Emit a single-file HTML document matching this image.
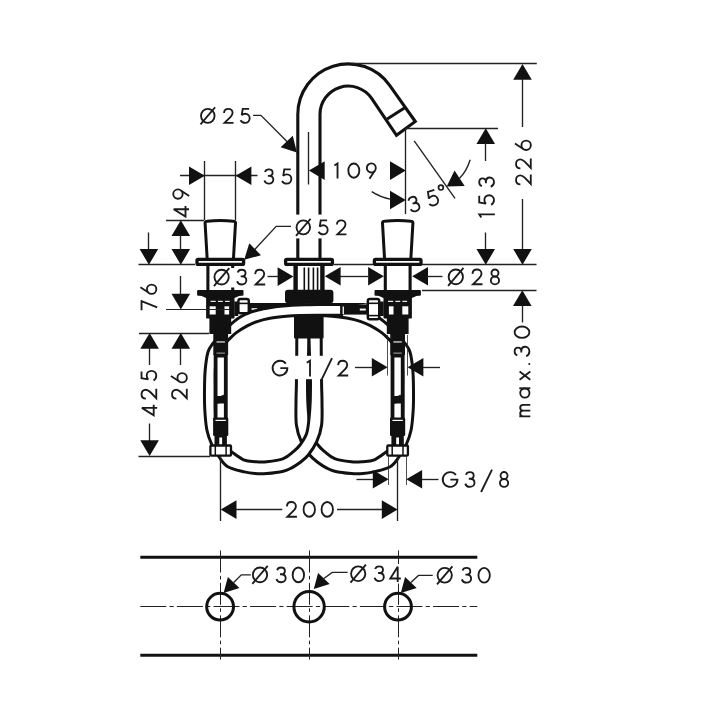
<!DOCTYPE html>
<html><head><meta charset="utf-8"><title>Dimension drawing</title>
<style>
html,body{margin:0;padding:0;background:#fff;}
body{width:720px;height:720px;overflow:hidden;}
svg{display:block;}
text{font-family:"Liberation Sans",sans-serif;fill:#151515;}
</style></head><body>
<svg width="720" height="720" viewBox="0 0 720 720">
<rect x="0" y="0" width="720" height="720" fill="#fff"/>
<g id="hoses">
<path d="M296.8,336 C296.78,340.00 296.77,351.83 296.70,360.00 C296.63,368.17 296.52,378.00 296.40,385.00 C296.28,392.00 296.00,395.33 296.00,402.00 C296.00,408.67 295.52,418.38 296.40,425.00 C297.28,431.62 299.08,436.70 301.30,441.70 C303.52,446.70 306.92,451.53 309.70,455.00 C312.48,458.47 315.23,460.37 318.00,462.50 C320.77,464.63 323.52,466.33 326.30,467.80 C329.08,469.27 330.53,470.33 334.70,471.30 C338.87,472.27 346.58,473.22 351.30,473.60 C356.02,473.98 359.28,473.88 363.00,473.60 C366.72,473.32 369.07,473.05 373.60,471.90 C378.13,470.75 385.95,469.23 390.20,466.70 C394.45,464.17 396.42,460.42 399.10,456.70 C401.78,452.98 404.30,448.85 406.30,444.40 C408.30,439.95 409.95,435.73 411.10,430.00 C412.25,424.27 412.80,416.67 413.20,410.00 C413.60,403.33 413.57,396.67 413.50,390.00 C413.43,383.33 413.38,376.33 412.80,370.00 C412.22,363.67 411.30,356.42 410.00,352.00 C408.70,347.58 407.33,346.70 405.00,343.50 C402.67,340.30 399.05,336.08 396.00,332.80 C392.95,329.52 389.75,326.43 386.70,323.80 C383.65,321.17 381.08,318.98 377.70,317.00 C374.32,315.02 370.18,313.25 366.40,311.90 C362.62,310.55 358.03,309.60 355.00,308.90 C351.97,308.20 351.03,308.13 348.20,307.70 C345.37,307.27 341.70,306.72 338.00,306.30 C334.30,305.88 330.17,305.47 326.00,305.20 C321.83,304.93 317.67,304.82 313.00,304.70 C308.33,304.58 304.12,304.55 298.00,304.50 C291.88,304.45 279.92,304.42 276.30,304.40 L276.3,315.2 C279.92,315.20 291.05,315.17 298.00,315.20 C304.95,315.23 312.35,315.23 318.00,315.40 C323.65,315.57 326.90,315.73 331.90,316.20 C336.90,316.67 343.28,317.35 348.00,318.20 C352.72,319.05 356.40,320.02 360.20,321.30 C364.00,322.58 367.17,323.97 370.80,325.90 C374.43,327.83 378.77,330.45 382.00,332.90 C385.23,335.35 387.78,338.17 390.20,340.60 C392.62,343.03 394.67,345.10 396.50,347.50 C398.33,349.90 400.17,351.25 401.20,355.00 C402.23,358.75 402.45,364.17 402.70,370.00 C402.95,375.83 402.70,383.33 402.70,390.00 C402.70,396.67 402.90,403.33 402.70,410.00 C402.50,416.67 402.62,424.33 401.50,430.00 C400.38,435.67 398.62,440.30 396.00,444.00 C393.38,447.70 389.53,449.50 385.80,452.20 C382.07,454.90 377.40,458.62 373.60,460.20 C369.80,461.78 366.72,461.43 363.00,461.70 C359.28,461.97 356.02,462.32 351.30,461.80 C346.58,461.28 339.13,460.28 334.70,458.60 C330.27,456.92 327.48,453.97 324.70,451.70 C321.92,449.43 320.23,448.07 318.00,445.00 C315.77,441.93 312.83,438.02 311.30,433.30 C309.77,428.58 309.38,421.92 308.80,416.70 C308.22,411.48 308.02,407.28 307.80,402.00 C307.58,396.72 307.52,390.67 307.50,385.00 C307.48,379.33 307.52,373.50 307.70,368.00 C307.88,362.50 308.38,357.33 308.60,352.00 C308.82,346.67 308.93,338.67 309.00,336.00 Z" fill="#fff" stroke="#111" stroke-width="3.0" stroke-linejoin="round"/>
<rect x="248.00" y="303.00" width="29.40" height="11.60" fill="#111" stroke="none" stroke-width="0" rx="0"/>
<rect x="251.60" y="308.20" width="5.60" height="1.70" fill="#fff" stroke="none" stroke-width="0" rx="0"/>
<path d="M321.2,336 C321.22,340.00 321.23,351.83 321.30,360.00 C321.37,368.17 321.48,378.00 321.60,385.00 C321.72,392.00 322.00,395.33 322.00,402.00 C322.00,408.67 322.48,418.38 321.60,425.00 C320.72,431.62 318.92,436.70 316.70,441.70 C314.48,446.70 311.08,451.53 308.30,455.00 C305.52,458.47 302.77,460.37 300.00,462.50 C297.23,464.63 294.48,466.33 291.70,467.80 C288.92,469.27 287.47,470.33 283.30,471.30 C279.13,472.27 271.42,473.22 266.70,473.60 C261.98,473.98 258.72,473.88 255.00,473.60 C251.28,473.32 248.93,473.05 244.40,471.90 C239.87,470.75 232.05,469.23 227.80,466.70 C223.55,464.17 221.58,460.42 218.90,456.70 C216.22,452.98 213.70,448.85 211.70,444.40 C209.70,439.95 208.05,435.73 206.90,430.00 C205.75,424.27 205.20,416.67 204.80,410.00 C204.40,403.33 204.43,396.67 204.50,390.00 C204.57,383.33 204.62,376.33 205.20,370.00 C205.78,363.67 206.70,356.42 208.00,352.00 C209.30,347.58 210.67,346.70 213.00,343.50 C215.33,340.30 218.95,336.08 222.00,332.80 C225.05,329.52 228.25,326.43 231.30,323.80 C234.35,321.17 236.92,318.98 240.30,317.00 C243.68,315.02 247.82,313.25 251.60,311.90 C255.38,310.55 259.97,309.60 263.00,308.90 C266.03,308.20 266.97,308.13 269.80,307.70 C272.63,307.27 276.30,306.72 280.00,306.30 C283.70,305.88 287.83,305.47 292.00,305.20 C296.17,304.93 300.33,304.82 305.00,304.70 C309.67,304.58 313.88,304.55 320.00,304.50 C326.12,304.45 338.08,304.42 341.70,304.40 L341.7,315.2 C338.08,315.20 326.95,315.17 320.00,315.20 C313.05,315.23 305.65,315.23 300.00,315.40 C294.35,315.57 291.10,315.73 286.10,316.20 C281.10,316.67 274.72,317.35 270.00,318.20 C265.28,319.05 261.60,320.02 257.80,321.30 C254.00,322.58 250.83,323.97 247.20,325.90 C243.57,327.83 239.23,330.45 236.00,332.90 C232.77,335.35 230.22,338.17 227.80,340.60 C225.38,343.03 223.33,345.10 221.50,347.50 C219.67,349.90 217.83,351.25 216.80,355.00 C215.77,358.75 215.55,364.17 215.30,370.00 C215.05,375.83 215.30,383.33 215.30,390.00 C215.30,396.67 215.10,403.33 215.30,410.00 C215.50,416.67 215.38,424.33 216.50,430.00 C217.62,435.67 219.38,440.30 222.00,444.00 C224.62,447.70 228.47,449.50 232.20,452.20 C235.93,454.90 240.60,458.62 244.40,460.20 C248.20,461.78 251.28,461.43 255.00,461.70 C258.72,461.97 261.98,462.32 266.70,461.80 C271.42,461.28 278.87,460.28 283.30,458.60 C287.73,456.92 290.52,453.97 293.30,451.70 C296.08,449.43 297.77,448.07 300.00,445.00 C302.23,441.93 305.17,438.02 306.70,433.30 C308.23,428.58 308.62,421.92 309.20,416.70 C309.78,411.48 309.98,407.28 310.20,402.00 C310.42,396.72 310.48,390.67 310.50,385.00 C310.52,379.33 310.48,373.50 310.30,368.00 C310.12,362.50 309.62,357.33 309.40,352.00 C309.18,346.67 309.07,338.67 309.00,336.00 Z" fill="#fff" stroke="#111" stroke-width="3.0" stroke-linejoin="round"/>
</g>
<g id="connectors">
<path d="M276,303 L286,303 L286,306 L276,306.6 Z" fill="#111" stroke="#111" stroke-width="0" />
<rect x="340.60" y="304.40" width="29.40" height="10.20" fill="#111" stroke="none" stroke-width="0" rx="0"/>
<rect x="359.80" y="308.60" width="6.00" height="1.90" fill="#fff" stroke="none" stroke-width="0" rx="0"/>
<rect x="342.60" y="305.40" width="1.30" height="8.80" fill="#fff" stroke="none" stroke-width="0" rx="0"/>
<path d="M370,303 L340.6,303 L340.6,306.4 L348,306.4 Z" fill="#111" stroke="#111" stroke-width="0" />
</g>
<g id="centre">
</g>
<path d="M297.8,258 L297.8,114.4 A50.5,50.5 0 0 1 389.67,85.43 L415.3,121.5 L396.5,135.3 L371.48,98.17 A28.3,28.3 0 0 0 320.0,114.4 L320.0,258" fill="#fff" stroke="#111" stroke-width="3.1" stroke-linejoin="miter"/>
<line x1="387.20" y1="118.90" x2="404.40" y2="107.90" stroke="#111" stroke-width="3.0" />
<rect x="285.60" y="259.40" width="46.80" height="5.00" fill="#fff" stroke="#111" stroke-width="3.3" rx="1.2"/>
<rect x="293.40" y="266.00" width="4.40" height="24.00" fill="#111" stroke="none" stroke-width="0" rx="0"/>
<rect x="320.20" y="266.00" width="4.40" height="24.00" fill="#111" stroke="none" stroke-width="0" rx="0"/>
<rect x="303.50" y="267.50" width="1.60" height="22.50" fill="#111" stroke="none" stroke-width="0" rx="0"/>
<rect x="307.80" y="267.50" width="1.60" height="22.50" fill="#111" stroke="none" stroke-width="0" rx="0"/>
<rect x="312.60" y="267.50" width="1.60" height="22.50" fill="#111" stroke="none" stroke-width="0" rx="0"/>
<rect x="316.80" y="267.50" width="1.60" height="22.50" fill="#111" stroke="none" stroke-width="0" rx="0"/>
<rect x="285.00" y="289.80" width="48.40" height="13.50" fill="#111" stroke="none" stroke-width="0" rx="3"/>
<rect x="294.00" y="316.00" width="29.60" height="22.50" fill="#111" stroke="none" stroke-width="0" rx="1"/>
<g>
<path d="M207.10000000000002,258 L205.10000000000002,223.2 Q204.9,221.3 207.10000000000002,221.2 Q220.3,219.9 233.5,221.2 Q235.70000000000002,221.3 235.5,223.2 L233.5,258" fill="#fff" stroke="#111" stroke-width="3.0" />
<rect x="197.00" y="259.40" width="46.60" height="5.00" fill="#fff" stroke="#111" stroke-width="3.3" rx="1.2"/>
<line x1="207.90" y1="265.00" x2="207.90" y2="291.00" stroke="#111" stroke-width="3.1" />
<line x1="232.70" y1="265.00" x2="232.70" y2="291.00" stroke="#111" stroke-width="3.1" />
<rect x="197.10" y="289.90" width="46.40" height="5.80" fill="#111" stroke="none" stroke-width="0" rx="1"/>
<path d="M199.3,295 L241.3,295 L234.5,298 L206.10000000000002,298 Z" fill="#111" stroke="#111" stroke-width="0" />
<rect x="206.10" y="295.00" width="28.40" height="23.60" fill="#111" stroke="none" stroke-width="0" rx="0.8"/>
<rect x="210.60" y="300.80" width="5.10" height="1.10" fill="#fff" stroke="none" stroke-width="0" rx="0"/>
<rect x="218.00" y="300.80" width="4.80" height="1.10" fill="#fff" stroke="none" stroke-width="0" rx="0"/>
<rect x="225.00" y="300.80" width="4.70" height="1.10" fill="#fff" stroke="none" stroke-width="0" rx="0"/>
<rect x="209.70" y="306.30" width="6.00" height="8.20" fill="#fff" stroke="none" stroke-width="0" rx="0"/>
<rect x="224.50" y="306.30" width="4.60" height="8.20" fill="#fff" stroke="none" stroke-width="0" rx="0"/>
<rect x="209.40" y="318.00" width="21.80" height="16.00" fill="#111" stroke="none" stroke-width="0" rx="0"/>
<rect x="213.30" y="333.00" width="14.80" height="22.00" fill="#111" stroke="none" stroke-width="0" rx="0"/>
<rect x="216.50" y="341.40" width="8.40" height="1.10" fill="#fff" stroke="none" stroke-width="0" rx="0"/>
<rect x="216.50" y="352.60" width="8.40" height="1.00" fill="#aaa" stroke="none" stroke-width="0" rx="0"/>
<rect x="213.70" y="354.00" width="14.00" height="66.00" fill="#111" stroke="none" stroke-width="0" rx="0"/>
<rect x="217.50" y="357.50" width="6.40" height="38.50" fill="#fff" stroke="none" stroke-width="0" rx="0"/>
<rect x="217.50" y="403.50" width="6.40" height="15.50" fill="#fff" stroke="none" stroke-width="0" rx="0"/>
<path d="M217.5,397.5 L223.89999999999998,394.5 L223.89999999999998,401 L217.5,404 Z" fill="#111" stroke="#111" stroke-width="0" />
<rect x="213.10" y="417.50" width="15.20" height="18.50" fill="#111" stroke="none" stroke-width="0" rx="1.2"/>
<rect x="215.50" y="419.80" width="10.40" height="1.20" fill="#fff" stroke="none" stroke-width="0" rx="0"/>
<rect x="214.50" y="435.00" width="12.40" height="10.50" fill="#111" stroke="none" stroke-width="0" rx="0"/>
<rect x="219.30" y="437.50" width="2.80" height="7.50" fill="#fff" stroke="none" stroke-width="0" rx="0"/>
<rect x="210.40" y="445.50" width="20.60" height="10.20" fill="#fff" stroke="#111" stroke-width="2.3" rx="1"/>
<line x1="215.30" y1="446.00" x2="215.30" y2="456.00" stroke="#111" stroke-width="1.5" />
<line x1="226.10" y1="446.00" x2="226.10" y2="456.00" stroke="#111" stroke-width="1.5" />
<rect x="234.30" y="301.50" width="3.90" height="14.50" fill="#111" stroke="none" stroke-width="0" rx="0"/>
</g>
<g>
<path d="M384.5,258 L382.5,223.2 Q382.3,221.3 384.5,221.2 Q397.7,219.9 410.9,221.2 Q413.09999999999997,221.3 412.9,223.2 L410.9,258" fill="#fff" stroke="#111" stroke-width="3.0" />
<rect x="374.40" y="259.40" width="46.60" height="5.00" fill="#fff" stroke="#111" stroke-width="3.3" rx="1.2"/>
<line x1="385.30" y1="265.00" x2="385.30" y2="291.00" stroke="#111" stroke-width="3.1" />
<line x1="410.10" y1="265.00" x2="410.10" y2="291.00" stroke="#111" stroke-width="3.1" />
<rect x="374.50" y="289.90" width="46.40" height="5.80" fill="#111" stroke="none" stroke-width="0" rx="1"/>
<path d="M376.7,295 L418.7,295 L411.9,298 L383.5,298 Z" fill="#111" stroke="#111" stroke-width="0" />
<rect x="383.50" y="295.00" width="28.40" height="23.60" fill="#111" stroke="none" stroke-width="0" rx="0.8"/>
<rect x="388.00" y="300.80" width="5.10" height="1.10" fill="#fff" stroke="none" stroke-width="0" rx="0"/>
<rect x="395.40" y="300.80" width="4.80" height="1.10" fill="#fff" stroke="none" stroke-width="0" rx="0"/>
<rect x="402.40" y="300.80" width="4.70" height="1.10" fill="#fff" stroke="none" stroke-width="0" rx="0"/>
<rect x="402.30" y="306.30" width="6.00" height="8.20" fill="#fff" stroke="none" stroke-width="0" rx="0"/>
<rect x="388.90" y="306.30" width="4.60" height="8.20" fill="#fff" stroke="none" stroke-width="0" rx="0"/>
<rect x="386.80" y="318.00" width="21.80" height="16.00" fill="#111" stroke="none" stroke-width="0" rx="0"/>
<rect x="390.20" y="333.00" width="14.80" height="22.00" fill="#111" stroke="none" stroke-width="0" rx="0"/>
<rect x="393.40" y="341.40" width="8.40" height="1.10" fill="#fff" stroke="none" stroke-width="0" rx="0"/>
<rect x="393.40" y="352.60" width="8.40" height="1.00" fill="#aaa" stroke="none" stroke-width="0" rx="0"/>
<rect x="390.60" y="354.00" width="14.00" height="66.00" fill="#111" stroke="none" stroke-width="0" rx="0"/>
<rect x="394.40" y="357.50" width="6.40" height="38.50" fill="#fff" stroke="none" stroke-width="0" rx="0"/>
<rect x="394.40" y="403.50" width="6.40" height="15.50" fill="#fff" stroke="none" stroke-width="0" rx="0"/>
<path d="M394.40000000000003,397.5 L400.8,394.5 L400.8,401 L394.40000000000003,404 Z" fill="#111" stroke="#111" stroke-width="0" />
<rect x="390.00" y="417.50" width="15.20" height="18.50" fill="#111" stroke="none" stroke-width="0" rx="1.2"/>
<rect x="392.40" y="419.80" width="10.40" height="1.20" fill="#fff" stroke="none" stroke-width="0" rx="0"/>
<rect x="391.40" y="435.00" width="12.40" height="10.50" fill="#111" stroke="none" stroke-width="0" rx="0"/>
<rect x="396.20" y="437.50" width="2.80" height="7.50" fill="#fff" stroke="none" stroke-width="0" rx="0"/>
<rect x="387.30" y="445.50" width="20.60" height="10.20" fill="#fff" stroke="#111" stroke-width="2.3" rx="1"/>
<line x1="392.20" y1="446.00" x2="392.20" y2="456.00" stroke="#111" stroke-width="1.5" />
<line x1="403.00" y1="446.00" x2="403.00" y2="456.00" stroke="#111" stroke-width="1.5" />
<rect x="379.40" y="301.50" width="4.30" height="14.50" fill="#111" stroke="none" stroke-width="0" rx="0"/>
</g>
<rect x="238.40" y="299.00" width="10.40" height="14.30" fill="#fff" stroke="#111" stroke-width="2.4" rx="2"/>
<line x1="238.20" y1="303.40" x2="249.00" y2="303.40" stroke="#111" stroke-width="1.6" />
<rect x="367.80" y="299.00" width="11.40" height="20.30" fill="#fff" stroke="#111" stroke-width="2.4" rx="2"/>
<line x1="367.60" y1="303.30" x2="379.40" y2="303.30" stroke="#111" stroke-width="1.6" />
<line x1="367.60" y1="315.60" x2="379.40" y2="315.60" stroke="#111" stroke-width="1.6" />
<g id="dims">
<line x1="352.00" y1="63.50" x2="536.80" y2="63.50" stroke="#222" stroke-width="1.35" />
<polygon points="522.50,63.90 531.80,79.70 513.20,79.70" fill="#111"/>
<line x1="522.50" y1="79.00" x2="522.50" y2="127.00" stroke="#222" stroke-width="1.35" />
<line x1="522.50" y1="199.00" x2="522.50" y2="250.00" stroke="#222" stroke-width="1.35" />
<polygon points="522.50,264.80 513.20,249.00 531.80,249.00" fill="#111"/>
<g transform="translate(531.70 185.60) rotate(-90)"><g transform="translate(0.00 0) scale(1.0) translate(0 -16.60)"><path d="M1.2,5.3 C1.3,2.7 3.2,0.925 5.7,0.925 C8.3,0.925 10.2,2.7 10.2,5.1 C10.2,6.9 9.3,8.2 7.9,9.6 L1.7,15.675 L11.2,15.675" fill="none" stroke="#1b1b1b" stroke-width="1.85" stroke-linejoin="miter" stroke-miterlimit="3"/></g><g transform="translate(16.00 0) scale(1.0) translate(0 -16.60)"><path d="M1.2,5.3 C1.3,2.7 3.2,0.925 5.7,0.925 C8.3,0.925 10.2,2.7 10.2,5.1 C10.2,6.9 9.3,8.2 7.9,9.6 L1.7,15.675 L11.2,15.675" fill="none" stroke="#1b1b1b" stroke-width="1.85" stroke-linejoin="miter" stroke-miterlimit="3"/></g><g transform="translate(34.80 0) scale(1.0) translate(0 -16.60)"><path d="M7.4,-0.2 L1.9,8.2" fill="none" stroke="#1b1b1b" stroke-width="1.85" stroke-linejoin="miter" stroke-miterlimit="3"/><ellipse cx="5.50" cy="11.05" rx="4.65" ry="4.70" fill="none" stroke="#1b1b1b" stroke-width="1.85"/></g></g>
<line x1="405.30" y1="128.50" x2="498.00" y2="128.50" stroke="#222" stroke-width="1.35" />
<polygon points="485.75,128.30 495.05,144.10 476.45,144.10" fill="#111"/>
<line x1="485.50" y1="143.00" x2="485.50" y2="161.00" stroke="#222" stroke-width="1.35" />
<line x1="485.50" y1="232.50" x2="485.50" y2="250.00" stroke="#222" stroke-width="1.35" />
<polygon points="485.75,264.80 476.45,249.00 495.05,249.00" fill="#111"/>
<g transform="translate(494.90 218.05) rotate(-90)"><g transform="translate(0.00 0) scale(1.0) translate(0 -16.60)"><path d="M0.5,3.0 L3.75,0.95 L3.75,16.6" fill="none" stroke="#1b1b1b" stroke-width="1.85" stroke-linejoin="miter" stroke-miterlimit="3"/></g><g transform="translate(12.35 0) scale(1.0) translate(0 -16.60)"><path d="M9.9,0.925 L3.2,0.925 L2.1,7.6 C3.1,6.6 4.4,6.1 5.8,6.1 C8.6,6.1 10.5,8.2 10.5,10.9 C10.5,13.6 8.5,15.675 5.7,15.675 C3.5,15.675 1.8,14.6 0.85,12.9" fill="none" stroke="#1b1b1b" stroke-width="1.85" stroke-linejoin="miter" stroke-miterlimit="3"/></g><g transform="translate(30.45 0) scale(1.0) translate(0 -16.60)"><path d="M1.5,3.6 C2.0,1.9 3.5,0.925 5.4,0.925 C7.7,0.925 9.3,2.3 9.3,4.3 C9.3,6.3 7.8,7.6 5.6,7.6 L4.4,7.6 M5.6,7.6 C8.3,7.6 10.1,9.2 10.1,11.5 C10.1,13.9 8.2,15.675 5.5,15.675 C3.2,15.675 1.5,14.4 0.85,12.4" fill="none" stroke="#1b1b1b" stroke-width="1.85" stroke-linejoin="miter" stroke-miterlimit="3"/></g></g>
<line x1="334.00" y1="264.50" x2="373.00" y2="264.50" stroke="#222" stroke-width="1.35" />
<line x1="422.00" y1="264.50" x2="536.50" y2="264.50" stroke="#222" stroke-width="1.35" />
<line x1="422.00" y1="290.50" x2="536.50" y2="290.50" stroke="#222" stroke-width="1.35" />
<polygon points="522.30,290.30 531.60,306.10 513.00,306.10" fill="#111"/>
<line x1="522.50" y1="305.00" x2="522.50" y2="322.50" stroke="#222" stroke-width="1.35" />
<g transform="translate(530.30 417.30) rotate(-90)"><g transform="translate(0.00 0) scale(1.0) translate(0 -16.60)"><path d="M0.925,16.6 L0.925,5.6 M0.925,9.4 C0.925,7.3 2.1,6.5249999999999995 3.8,6.5249999999999995 C5.5,6.5249999999999995 6.6,7.3 6.6,9.4 L6.6,16.6 M6.6,9.4 C6.6,7.3 7.8,6.5249999999999995 9.5,6.5249999999999995 C11.2,6.5249999999999995 12.35,7.3 12.35,9.4 L12.35,16.6" fill="none" stroke="#1b1b1b" stroke-width="1.85" stroke-linejoin="miter" stroke-miterlimit="3"/></g><g transform="translate(18.90 0) scale(1.0) translate(0 -16.60)"><ellipse cx="5.40" cy="11.15" rx="4.55" ry="4.63" fill="none" stroke="#1b1b1b" stroke-width="1.85"/><path d="M10.15,5.6 L10.15,16.6" fill="none" stroke="#1b1b1b" stroke-width="1.85" stroke-linejoin="miter" stroke-miterlimit="3"/></g><g transform="translate(37.00 0) scale(1.0) translate(0 -16.60)"><path d="M0.5,5.8999999999999995 L8.7,16.6 M8.7,5.8999999999999995 L0.5,16.6" fill="none" stroke="#1b1b1b" stroke-width="1.85" stroke-linejoin="miter" stroke-miterlimit="3"/></g><g transform="translate(52.30 0) scale(1.0) translate(0 -16.60)"><circle cx="1.00" cy="15.60" r="1.05" fill="#1b1b1b"/></g><g transform="translate(60.40 0) scale(1.0) translate(0 -16.60)"><path d="M1.5,3.6 C2.0,1.9 3.5,0.925 5.4,0.925 C7.7,0.925 9.3,2.3 9.3,4.3 C9.3,6.3 7.8,7.6 5.6,7.6 L4.4,7.6 M5.6,7.6 C8.3,7.6 10.1,9.2 10.1,11.5 C10.1,13.9 8.2,15.675 5.5,15.675 C3.2,15.675 1.5,14.4 0.85,12.4" fill="none" stroke="#1b1b1b" stroke-width="1.85" stroke-linejoin="miter" stroke-miterlimit="3"/></g><g transform="translate(78.50 0) scale(1.0) translate(0 -16.60)"><ellipse cx="6.55" cy="8.30" rx="5.70" ry="7.38" fill="none" stroke="#1b1b1b" stroke-width="1.85"/></g></g>
<polygon points="383.90,276.30 368.10,285.60 368.10,267.00" fill="#111"/>
<line x1="339.00" y1="276.50" x2="368.50" y2="276.50" stroke="#222" stroke-width="1.35" />
<polygon points="324.80,276.30 340.60,267.00 340.60,285.60" fill="#111"/>
<polygon points="412.20,276.30 428.00,267.00 428.00,285.60" fill="#111"/>
<line x1="427.00" y1="276.50" x2="442.50" y2="276.50" stroke="#222" stroke-width="1.35" />
<g transform="translate(0.00 285.20) rotate(0)"><g transform="translate(447.80 0) scale(1.0) translate(0 -16.60)"><ellipse cx="8.00" cy="8.30" rx="7.15" ry="7.38" fill="none" stroke="#1b1b1b" stroke-width="1.85"/><path d="M0.3,17.3 L15.7,-0.7" fill="none" stroke="#1b1b1b" stroke-width="1.85" stroke-linejoin="miter" stroke-miterlimit="3"/></g><g transform="translate(471.30 0) scale(1.0) translate(0 -16.60)"><path d="M1.2,5.3 C1.3,2.7 3.2,0.925 5.7,0.925 C8.3,0.925 10.2,2.7 10.2,5.1 C10.2,6.9 9.3,8.2 7.9,9.6 L1.7,15.675 L11.2,15.675" fill="none" stroke="#1b1b1b" stroke-width="1.85" stroke-linejoin="miter" stroke-miterlimit="3"/></g><g transform="translate(490.00 0) scale(1.0) translate(0 -16.60)"><ellipse cx="4.95" cy="4.35" rx="3.50" ry="3.50" fill="none" stroke="#1b1b1b" stroke-width="1.85"/><ellipse cx="4.95" cy="11.80" rx="4.10" ry="3.95" fill="none" stroke="#1b1b1b" stroke-width="1.85"/></g></g>
<rect x="211.00" y="268.00" width="56.00" height="19.50" fill="#fff" stroke="none" stroke-width="0" rx="0"/>
<g transform="translate(0.00 285.40) rotate(0)"><g transform="translate(213.60 0) scale(1.0) translate(0 -16.60)"><ellipse cx="8.00" cy="8.30" rx="7.15" ry="7.38" fill="none" stroke="#1b1b1b" stroke-width="1.85"/><path d="M0.3,17.3 L15.7,-0.7" fill="none" stroke="#1b1b1b" stroke-width="1.85" stroke-linejoin="miter" stroke-miterlimit="3"/></g><g transform="translate(236.25 0) scale(1.0) translate(0 -16.60)"><path d="M1.5,3.6 C2.0,1.9 3.5,0.925 5.4,0.925 C7.7,0.925 9.3,2.3 9.3,4.3 C9.3,6.3 7.8,7.6 5.6,7.6 L4.4,7.6 M5.6,7.6 C8.3,7.6 10.1,9.2 10.1,11.5 C10.1,13.9 8.2,15.675 5.5,15.675 C3.2,15.675 1.5,14.4 0.85,12.4" fill="none" stroke="#1b1b1b" stroke-width="1.85" stroke-linejoin="miter" stroke-miterlimit="3"/></g><g transform="translate(254.00 0) scale(1.0) translate(0 -16.60)"><path d="M1.2,5.3 C1.3,2.7 3.2,0.925 5.7,0.925 C8.3,0.925 10.2,2.7 10.2,5.1 C10.2,6.9 9.3,8.2 7.9,9.6 L1.7,15.675 L11.2,15.675" fill="none" stroke="#1b1b1b" stroke-width="1.85" stroke-linejoin="miter" stroke-miterlimit="3"/></g></g>
<line x1="267.50" y1="276.50" x2="278.50" y2="276.50" stroke="#222" stroke-width="1.35" />
<polygon points="293.40,276.60 277.60,285.90 277.60,267.30" fill="#111"/>
<rect x="292.00" y="214.60" width="58.00" height="23.80" fill="#fff" stroke="none" stroke-width="0" rx="0"/>
<g transform="translate(0.00 235.20) rotate(0)"><g transform="translate(295.70 0) scale(0.95) translate(0 -16.60)"><ellipse cx="8.00" cy="8.30" rx="7.15" ry="7.38" fill="none" stroke="#1b1b1b" stroke-width="1.9473684210526319"/><path d="M0.3,17.3 L15.7,-0.7" fill="none" stroke="#1b1b1b" stroke-width="1.9473684210526319" stroke-linejoin="miter" stroke-miterlimit="3"/></g><g transform="translate(317.70 0) scale(0.95) translate(0 -16.60)"><path d="M9.9,0.925 L3.2,0.925 L2.1,7.6 C3.1,6.6 4.4,6.1 5.8,6.1 C8.6,6.1 10.5,8.2 10.5,10.9 C10.5,13.6 8.5,15.675 5.7,15.675 C3.5,15.675 1.8,14.6 0.85,12.9" fill="none" stroke="#1b1b1b" stroke-width="1.9473684210526319" stroke-linejoin="miter" stroke-miterlimit="3"/></g><g transform="translate(335.80 0) scale(0.95) translate(0 -16.60)"><path d="M1.2,5.3 C1.3,2.7 3.2,0.925 5.7,0.925 C8.3,0.925 10.2,2.7 10.2,5.1 C10.2,6.9 9.3,8.2 7.9,9.6 L1.7,15.675 L11.2,15.675" fill="none" stroke="#1b1b1b" stroke-width="1.9473684210526319" stroke-linejoin="miter" stroke-miterlimit="3"/></g></g>
<path d="M291,226.4 L276.2,226.4 L254,250.2" fill="none" stroke="#222" stroke-width="1.35" />
<polygon points="244.20,259.80 249.27,243.19 260.96,255.26" fill="#111"/>
<g transform="translate(0.00 123.70) rotate(0)"><g transform="translate(200.20 0) scale(0.95) translate(0 -16.60)"><ellipse cx="8.00" cy="8.30" rx="7.15" ry="7.38" fill="none" stroke="#1b1b1b" stroke-width="1.9473684210526319"/><path d="M0.3,17.3 L15.7,-0.7" fill="none" stroke="#1b1b1b" stroke-width="1.9473684210526319" stroke-linejoin="miter" stroke-miterlimit="3"/></g><g transform="translate(222.90 0) scale(0.95) translate(0 -16.60)"><path d="M1.2,5.3 C1.3,2.7 3.2,0.925 5.7,0.925 C8.3,0.925 10.2,2.7 10.2,5.1 C10.2,6.9 9.3,8.2 7.9,9.6 L1.7,15.675 L11.2,15.675" fill="none" stroke="#1b1b1b" stroke-width="1.9473684210526319" stroke-linejoin="miter" stroke-miterlimit="3"/></g><g transform="translate(239.70 0) scale(0.95) translate(0 -16.60)"><path d="M9.9,0.925 L3.2,0.925 L2.1,7.6 C3.1,6.6 4.4,6.1 5.8,6.1 C8.6,6.1 10.5,8.2 10.5,10.9 C10.5,13.6 8.5,15.675 5.7,15.675 C3.5,15.675 1.8,14.6 0.85,12.9" fill="none" stroke="#1b1b1b" stroke-width="1.9473684210526319" stroke-linejoin="miter" stroke-miterlimit="3"/></g></g>
<path d="M253.1,115.3 L260.9,115.3 L288,142.6" fill="none" stroke="#222" stroke-width="1.35" />
<polygon points="296.90,152.50 280.61,147.15 292.78,135.86" fill="#111"/>
<line x1="204.50" y1="161.00" x2="204.50" y2="220.00" stroke="#222" stroke-width="1.35" />
<line x1="235.50" y1="161.00" x2="235.50" y2="220.00" stroke="#222" stroke-width="1.35" />
<line x1="180.00" y1="175.50" x2="257.50" y2="175.50" stroke="#222" stroke-width="1.35" />
<polygon points="204.80,175.80 189.00,185.10 189.00,166.50" fill="#111"/>
<polygon points="235.60,175.80 251.40,166.50 251.40,185.10" fill="#111"/>
<g transform="translate(0.00 184.50) rotate(0)"><g transform="translate(263.60 0) scale(0.965) translate(0 -16.60)"><path d="M1.5,3.6 C2.0,1.9 3.5,0.925 5.4,0.925 C7.7,0.925 9.3,2.3 9.3,4.3 C9.3,6.3 7.8,7.6 5.6,7.6 L4.4,7.6 M5.6,7.6 C8.3,7.6 10.1,9.2 10.1,11.5 C10.1,13.9 8.2,15.675 5.5,15.675 C3.2,15.675 1.5,14.4 0.85,12.4" fill="none" stroke="#1b1b1b" stroke-width="1.917098445595855" stroke-linejoin="miter" stroke-miterlimit="3"/></g><g transform="translate(281.20 0) scale(0.965) translate(0 -16.60)"><path d="M9.9,0.925 L3.2,0.925 L2.1,7.6 C3.1,6.6 4.4,6.1 5.8,6.1 C8.6,6.1 10.5,8.2 10.5,10.9 C10.5,13.6 8.5,15.675 5.7,15.675 C3.5,15.675 1.8,14.6 0.85,12.9" fill="none" stroke="#1b1b1b" stroke-width="1.917098445595855" stroke-linejoin="miter" stroke-miterlimit="3"/></g></g>
<line x1="308.50" y1="132.00" x2="308.50" y2="184.50" stroke="#222" stroke-width="1.35" />
<polygon points="308.90,170.60 324.70,161.30 324.70,179.90" fill="#111"/>
<g transform="translate(0.00 178.60) rotate(0)"><g transform="translate(333.90 0) scale(0.965) translate(0 -16.60)"><path d="M0.5,3.0 L3.75,0.95 L3.75,16.6" fill="none" stroke="#1b1b1b" stroke-width="1.917098445595855" stroke-linejoin="miter" stroke-miterlimit="3"/></g><g transform="translate(347.50 0) scale(0.965) translate(0 -16.60)"><ellipse cx="6.55" cy="8.30" rx="5.70" ry="7.38" fill="none" stroke="#1b1b1b" stroke-width="1.917098445595855"/></g><g transform="translate(366.00 0) scale(0.965) translate(0 -16.60)"><ellipse cx="5.50" cy="5.55" rx="4.65" ry="4.70" fill="none" stroke="#1b1b1b" stroke-width="1.917098445595855"/><path d="M9.1,8.4 L3.6,16.8" fill="none" stroke="#1b1b1b" stroke-width="1.917098445595855" stroke-linejoin="miter" stroke-miterlimit="3"/></g></g>
<polygon points="405.80,170.60 390.00,179.90 390.00,161.30" fill="#111"/>
<line x1="405.50" y1="128.50" x2="405.50" y2="214.00" stroke="#222" stroke-width="1.35" />
<line x1="414.20" y1="140.80" x2="455.00" y2="198.40" stroke="#222" stroke-width="1.35" />
<polygon points="405.80,200.00 390.00,209.30 390.00,190.70" fill="#111"/>
<path d="M371.7,191.6 Q380,197 391,199.4" fill="none" stroke="#222" stroke-width="1.35" />
<polygon points="446.70,186.60 454.53,170.40 464.68,185.99" fill="#111"/>
<path d="M459.4,178.4 Q466.5,171.5 470.2,159.8" fill="none" stroke="#222" stroke-width="1.35" />
<g transform="translate(411.10 213.60) rotate(-17.5)"><g transform="translate(0.00 0) scale(1.0) translate(0 -16.60)"><path d="M1.5,3.6 C2.0,1.9 3.5,0.925 5.4,0.925 C7.7,0.925 9.3,2.3 9.3,4.3 C9.3,6.3 7.8,7.6 5.6,7.6 L4.4,7.6 M5.6,7.6 C8.3,7.6 10.1,9.2 10.1,11.5 C10.1,13.9 8.2,15.675 5.5,15.675 C3.2,15.675 1.5,14.4 0.85,12.4" fill="none" stroke="#1b1b1b" stroke-width="1.85" stroke-linejoin="miter" stroke-miterlimit="3"/></g><g transform="translate(19.40 0) scale(1.0) translate(0 -16.60)"><path d="M9.9,0.925 L3.2,0.925 L2.1,7.6 C3.1,6.6 4.4,6.1 5.8,6.1 C8.6,6.1 10.5,8.2 10.5,10.9 C10.5,13.6 8.5,15.675 5.7,15.675 C3.5,15.675 1.8,14.6 0.85,12.9" fill="none" stroke="#1b1b1b" stroke-width="1.85" stroke-linejoin="miter" stroke-miterlimit="3"/></g></g>
<circle cx="440.9" cy="187.6" r="2.4" fill="none" stroke="#1b1b1b" stroke-width="1.7"/>
<line x1="166.00" y1="220.50" x2="204.00" y2="220.50" stroke="#222" stroke-width="1.35" />
<polygon points="180.80,220.20 190.10,236.00 171.50,236.00" fill="#111"/>
<polygon points="180.80,264.80 171.50,249.00 190.10,249.00" fill="#111"/>
<line x1="180.50" y1="235.00" x2="180.50" y2="250.00" stroke="#222" stroke-width="1.35" />
<g transform="translate(189.00 217.70) rotate(-90)"><g transform="translate(0.00 0) scale(1.0) translate(0 -16.60)"><path d="M8.5,16.6 L8.5,1.3 L1.1,13.1 L11.6,13.1" fill="none" stroke="#1b1b1b" stroke-width="1.85" stroke-linejoin="miter" stroke-miterlimit="3"/></g><g transform="translate(18.10 0) scale(1.0) translate(0 -16.60)"><ellipse cx="5.50" cy="5.55" rx="4.65" ry="4.70" fill="none" stroke="#1b1b1b" stroke-width="1.85"/><path d="M9.1,8.4 L3.6,16.8" fill="none" stroke="#1b1b1b" stroke-width="1.85" stroke-linejoin="miter" stroke-miterlimit="3"/></g></g>
<line x1="148.50" y1="232.50" x2="148.50" y2="250.00" stroke="#222" stroke-width="1.35" />
<polygon points="148.90,264.80 139.60,249.00 158.20,249.00" fill="#111"/>
<line x1="138.50" y1="264.50" x2="195.00" y2="264.50" stroke="#222" stroke-width="1.35" />
<line x1="180.50" y1="276.00" x2="180.50" y2="295.00" stroke="#222" stroke-width="1.35" />
<polygon points="180.80,309.60 171.50,293.80 190.10,293.80" fill="#111"/>
<line x1="166.00" y1="309.50" x2="229.50" y2="309.50" stroke="#222" stroke-width="1.1" />
<g transform="translate(157.20 310.70) rotate(-90)"><g transform="translate(0.00 0) scale(1.0) translate(0 -16.60)"><path d="M0.5,0.925 L9.6,0.925 L3.4,16.6" fill="none" stroke="#1b1b1b" stroke-width="1.85" stroke-linejoin="miter" stroke-miterlimit="3"/></g><g transform="translate(16.00 0) scale(1.0) translate(0 -16.60)"><path d="M7.4,-0.2 L1.9,8.2" fill="none" stroke="#1b1b1b" stroke-width="1.85" stroke-linejoin="miter" stroke-miterlimit="3"/><ellipse cx="5.50" cy="11.05" rx="4.65" ry="4.70" fill="none" stroke="#1b1b1b" stroke-width="1.85"/></g></g>
<line x1="139.00" y1="333.50" x2="209.00" y2="333.50" stroke="#222" stroke-width="1.35" />
<polygon points="149.60,333.00 158.90,348.80 140.30,348.80" fill="#111"/>
<polygon points="180.80,333.00 190.10,348.80 171.50,348.80" fill="#111"/>
<line x1="149.50" y1="348.00" x2="149.50" y2="365.00" stroke="#222" stroke-width="1.35" />
<line x1="180.50" y1="348.00" x2="180.50" y2="365.00" stroke="#222" stroke-width="1.35" />
<g transform="translate(157.20 416.40) rotate(-90)"><g transform="translate(0.00 0) scale(1.0) translate(0 -16.60)"><path d="M8.5,16.6 L8.5,1.3 L1.1,13.1 L11.6,13.1" fill="none" stroke="#1b1b1b" stroke-width="1.85" stroke-linejoin="miter" stroke-miterlimit="3"/></g><g transform="translate(16.50 0) scale(1.0) translate(0 -16.60)"><path d="M1.2,5.3 C1.3,2.7 3.2,0.925 5.7,0.925 C8.3,0.925 10.2,2.7 10.2,5.1 C10.2,6.9 9.3,8.2 7.9,9.6 L1.7,15.675 L11.2,15.675" fill="none" stroke="#1b1b1b" stroke-width="1.85" stroke-linejoin="miter" stroke-miterlimit="3"/></g><g transform="translate(35.00 0) scale(1.0) translate(0 -16.60)"><path d="M9.9,0.925 L3.2,0.925 L2.1,7.6 C3.1,6.6 4.4,6.1 5.8,6.1 C8.6,6.1 10.5,8.2 10.5,10.9 C10.5,13.6 8.5,15.675 5.7,15.675 C3.5,15.675 1.8,14.6 0.85,12.9" fill="none" stroke="#1b1b1b" stroke-width="1.85" stroke-linejoin="miter" stroke-miterlimit="3"/></g></g>
<g transform="translate(187.70 399.90) rotate(-90)"><g transform="translate(0.00 0) scale(1.0) translate(0 -16.60)"><path d="M1.2,5.3 C1.3,2.7 3.2,0.925 5.7,0.925 C8.3,0.925 10.2,2.7 10.2,5.1 C10.2,6.9 9.3,8.2 7.9,9.6 L1.7,15.675 L11.2,15.675" fill="none" stroke="#1b1b1b" stroke-width="1.85" stroke-linejoin="miter" stroke-miterlimit="3"/></g><g transform="translate(16.60 0) scale(1.0) translate(0 -16.60)"><path d="M7.4,-0.2 L1.9,8.2" fill="none" stroke="#1b1b1b" stroke-width="1.85" stroke-linejoin="miter" stroke-miterlimit="3"/><ellipse cx="5.50" cy="11.05" rx="4.65" ry="4.70" fill="none" stroke="#1b1b1b" stroke-width="1.85"/></g></g>
<line x1="149.50" y1="423.50" x2="149.50" y2="441.00" stroke="#222" stroke-width="1.35" />
<polygon points="149.60,456.00 140.30,440.20 158.90,440.20" fill="#111"/>
<line x1="138.50" y1="456.50" x2="210.00" y2="456.50" stroke="#222" stroke-width="1.35" />
<rect x="268.00" y="355.80" width="84.00" height="23.40" fill="#fff" stroke="none" stroke-width="0" rx="0"/>
<g transform="translate(0.00 376.40) rotate(0)"><g transform="translate(271.70 0) scale(1.0) translate(0 -16.60)"><path d="M14.11,3.76 A7.38,7.38 0 1 0 15.66,8.81 L15.66,8.40 L8.6,8.40" fill="none" stroke="#1b1b1b" stroke-width="1.85" stroke-linejoin="miter" stroke-miterlimit="3"/></g><g transform="translate(306.25 0) scale(1.0) translate(0 -16.60)"><path d="M0.5,3.0 L3.75,0.95 L3.75,16.6" fill="none" stroke="#1b1b1b" stroke-width="1.85" stroke-linejoin="miter" stroke-miterlimit="3"/></g><g transform="translate(320.80 0) scale(1.0) translate(0 -16.60)"><path d="M0.3,20.8 L11.2,-1.6" fill="none" stroke="#1b1b1b" stroke-width="1.85" stroke-linejoin="miter" stroke-miterlimit="3"/></g><g transform="translate(337.00 0) scale(1.0) translate(0 -16.60)"><path d="M1.2,5.3 C1.3,2.7 3.2,0.925 5.7,0.925 C8.3,0.925 10.2,2.7 10.2,5.1 C10.2,6.9 9.3,8.2 7.9,9.6 L1.7,15.675 L11.2,15.675" fill="none" stroke="#1b1b1b" stroke-width="1.85" stroke-linejoin="miter" stroke-miterlimit="3"/></g></g>
<line x1="355.00" y1="367.50" x2="372.00" y2="367.50" stroke="#222" stroke-width="1.35" />
<polygon points="387.60,367.20 371.80,376.50 371.80,357.90" fill="#111"/>
<polygon points="407.60,367.20 423.40,357.90 423.40,376.50" fill="#111"/>
<line x1="423.00" y1="367.50" x2="440.00" y2="367.50" stroke="#222" stroke-width="1.35" />
<line x1="387.50" y1="335.00" x2="387.50" y2="375.50" stroke="#222" stroke-width="0.8" />
<line x1="407.50" y1="335.00" x2="407.50" y2="375.50" stroke="#222" stroke-width="0.8" />
<line x1="388.50" y1="456.50" x2="388.50" y2="485.00" stroke="#222" stroke-width="0.8" />
<line x1="406.50" y1="456.50" x2="406.50" y2="485.00" stroke="#222" stroke-width="0.8" />
<line x1="356.50" y1="479.50" x2="373.00" y2="479.50" stroke="#222" stroke-width="1.35" />
<polygon points="388.60,479.30 372.80,488.60 372.80,470.00" fill="#111"/>
<polygon points="406.30,479.30 422.10,470.00 422.10,488.60" fill="#111"/>
<line x1="422.00" y1="479.50" x2="438.50" y2="479.50" stroke="#222" stroke-width="1.35" />
<g transform="translate(0.00 487.80) rotate(0)"><g transform="translate(441.80 0) scale(1.0) translate(0 -16.60)"><path d="M14.11,3.76 A7.38,7.38 0 1 0 15.66,8.81 L15.66,8.40 L8.6,8.40" fill="none" stroke="#1b1b1b" stroke-width="1.85" stroke-linejoin="miter" stroke-miterlimit="3"/></g><g transform="translate(464.40 0) scale(1.0) translate(0 -16.60)"><path d="M1.5,3.6 C2.0,1.9 3.5,0.925 5.4,0.925 C7.7,0.925 9.3,2.3 9.3,4.3 C9.3,6.3 7.8,7.6 5.6,7.6 L4.4,7.6 M5.6,7.6 C8.3,7.6 10.1,9.2 10.1,11.5 C10.1,13.9 8.2,15.675 5.5,15.675 C3.2,15.675 1.5,14.4 0.85,12.4" fill="none" stroke="#1b1b1b" stroke-width="1.85" stroke-linejoin="miter" stroke-miterlimit="3"/></g><g transform="translate(480.80 0) scale(1.0) translate(0 -16.60)"><path d="M0.3,20.8 L11.2,-1.6" fill="none" stroke="#1b1b1b" stroke-width="1.85" stroke-linejoin="miter" stroke-miterlimit="3"/></g><g transform="translate(499.10 0) scale(1.0) translate(0 -16.60)"><ellipse cx="4.95" cy="4.35" rx="3.50" ry="3.50" fill="none" stroke="#1b1b1b" stroke-width="1.85"/><ellipse cx="4.95" cy="11.80" rx="4.10" ry="3.95" fill="none" stroke="#1b1b1b" stroke-width="1.85"/></g></g>
<line x1="220.50" y1="456.50" x2="220.50" y2="521.00" stroke="#222" stroke-width="1.35" />
<line x1="397.50" y1="456.50" x2="397.50" y2="521.00" stroke="#222" stroke-width="1.35" />
<polygon points="220.70,509.60 236.50,500.30 236.50,518.90" fill="#111"/>
<polygon points="397.60,509.60 381.80,518.90 381.80,500.30" fill="#111"/>
<line x1="236.00" y1="509.50" x2="282.30" y2="509.50" stroke="#222" stroke-width="1.35" />
<line x1="337.00" y1="509.50" x2="382.50" y2="509.50" stroke="#222" stroke-width="1.35" />
<g transform="translate(0.00 517.70) rotate(0)"><g transform="translate(285.70 0) scale(1.0) translate(0 -16.60)"><path d="M1.2,5.3 C1.3,2.7 3.2,0.925 5.7,0.925 C8.3,0.925 10.2,2.7 10.2,5.1 C10.2,6.9 9.3,8.2 7.9,9.6 L1.7,15.675 L11.2,15.675" fill="none" stroke="#1b1b1b" stroke-width="1.85" stroke-linejoin="miter" stroke-miterlimit="3"/></g><g transform="translate(302.70 0) scale(1.0) translate(0 -16.60)"><ellipse cx="6.55" cy="8.30" rx="5.70" ry="7.38" fill="none" stroke="#1b1b1b" stroke-width="1.85"/></g><g transform="translate(320.70 0) scale(1.0) translate(0 -16.60)"><ellipse cx="6.55" cy="8.30" rx="5.70" ry="7.38" fill="none" stroke="#1b1b1b" stroke-width="1.85"/></g></g>
</g>
<g id="plan">
<line x1="140.30" y1="557.30" x2="477.30" y2="557.30" stroke="#111" stroke-width="2.9" />
<line x1="140.30" y1="655.30" x2="477.30" y2="655.30" stroke="#111" stroke-width="2.9" />
<line x1="140.30" y1="606.50" x2="477.30" y2="606.50" stroke="#222" stroke-width="1.0" stroke-dasharray="26 3.2 4.2 3.2"/>
<line x1="220.50" y1="550.50" x2="220.50" y2="659.50" stroke="#222" stroke-width="1.0" stroke-dasharray="22 3.4 3.6 3.4"/>
<line x1="309.50" y1="550.50" x2="309.50" y2="659.50" stroke="#222" stroke-width="1.0" stroke-dasharray="22 3.4 3.6 3.4"/>
<line x1="398.50" y1="550.50" x2="398.50" y2="659.50" stroke="#222" stroke-width="1.0" stroke-dasharray="22 3.4 3.6 3.4"/>
<circle cx="220.1" cy="606.7" r="13.4" fill="none" stroke="#111" stroke-width="3"/>
<circle cx="309.1" cy="606.7" r="15.2" fill="none" stroke="#111" stroke-width="3"/>
<circle cx="398.0" cy="606.7" r="13.4" fill="none" stroke="#111" stroke-width="3"/>
<rect x="251.50" y="565.20" width="53.80" height="19.50" fill="#fff" stroke="none" stroke-width="0" rx="0"/>
<g transform="translate(0.00 583.20) rotate(0)"><g transform="translate(252.00 0) scale(1.0) translate(0 -16.60)"><ellipse cx="8.00" cy="8.30" rx="7.15" ry="7.38" fill="none" stroke="#1b1b1b" stroke-width="1.85"/><path d="M0.3,17.3 L15.7,-0.7" fill="none" stroke="#1b1b1b" stroke-width="1.85" stroke-linejoin="miter" stroke-miterlimit="3"/></g><g transform="translate(275.60 0) scale(1.0) translate(0 -16.60)"><path d="M1.5,3.6 C2.0,1.9 3.5,0.925 5.4,0.925 C7.7,0.925 9.3,2.3 9.3,4.3 C9.3,6.3 7.8,7.6 5.6,7.6 L4.4,7.6 M5.6,7.6 C8.3,7.6 10.1,9.2 10.1,11.5 C10.1,13.9 8.2,15.675 5.5,15.675 C3.2,15.675 1.5,14.4 0.85,12.4" fill="none" stroke="#1b1b1b" stroke-width="1.85" stroke-linejoin="miter" stroke-miterlimit="3"/></g><g transform="translate(291.80 0) scale(1.0) translate(0 -16.60)"><ellipse cx="6.55" cy="8.30" rx="5.70" ry="7.38" fill="none" stroke="#1b1b1b" stroke-width="1.85"/></g></g>
<path d="M250.8,574.8 L241.3,574.8 L233.67,582.43" fill="none" stroke="#222" stroke-width="1.35" />
<polygon points="223.60,593.00 227.88,576.91 239.46,587.95" fill="#111"/>
<rect x="349.70" y="564.00" width="53.00" height="19.50" fill="#fff" stroke="none" stroke-width="0" rx="0"/>
<g transform="translate(0.00 582.00) rotate(0)"><g transform="translate(350.20 0) scale(1.0) translate(0 -16.60)"><ellipse cx="8.00" cy="8.30" rx="7.15" ry="7.38" fill="none" stroke="#1b1b1b" stroke-width="1.85"/><path d="M0.3,17.3 L15.7,-0.7" fill="none" stroke="#1b1b1b" stroke-width="1.85" stroke-linejoin="miter" stroke-miterlimit="3"/></g><g transform="translate(373.70 0) scale(1.0) translate(0 -16.60)"><path d="M1.5,3.6 C2.0,1.9 3.5,0.925 5.4,0.925 C7.7,0.925 9.3,2.3 9.3,4.3 C9.3,6.3 7.8,7.6 5.6,7.6 L4.4,7.6 M5.6,7.6 C8.3,7.6 10.1,9.2 10.1,11.5 C10.1,13.9 8.2,15.675 5.5,15.675 C3.2,15.675 1.5,14.4 0.85,12.4" fill="none" stroke="#1b1b1b" stroke-width="1.85" stroke-linejoin="miter" stroke-miterlimit="3"/></g><g transform="translate(389.20 0) scale(1.0) translate(0 -16.60)"><path d="M8.5,16.6 L8.5,1.3 L1.1,13.1 L11.6,13.1" fill="none" stroke="#1b1b1b" stroke-width="1.85" stroke-linejoin="miter" stroke-miterlimit="3"/></g></g>
<path d="M347.6,572.4 L332.2,572.4 L323.87,578.43" fill="none" stroke="#222" stroke-width="1.35" />
<polygon points="313.80,589.00 318.08,572.91 329.66,583.95" fill="#111"/>
<rect x="436.20" y="565.60" width="54.90" height="19.50" fill="#fff" stroke="none" stroke-width="0" rx="0"/>
<g transform="translate(0.00 583.60) rotate(0)"><g transform="translate(436.70 0) scale(1.0) translate(0 -16.60)"><ellipse cx="8.00" cy="8.30" rx="7.15" ry="7.38" fill="none" stroke="#1b1b1b" stroke-width="1.85"/><path d="M0.3,17.3 L15.7,-0.7" fill="none" stroke="#1b1b1b" stroke-width="1.85" stroke-linejoin="miter" stroke-miterlimit="3"/></g><g transform="translate(461.00 0) scale(1.0) translate(0 -16.60)"><path d="M1.5,3.6 C2.0,1.9 3.5,0.925 5.4,0.925 C7.7,0.925 9.3,2.3 9.3,4.3 C9.3,6.3 7.8,7.6 5.6,7.6 L4.4,7.6 M5.6,7.6 C8.3,7.6 10.1,9.2 10.1,11.5 C10.1,13.9 8.2,15.675 5.5,15.675 C3.2,15.675 1.5,14.4 0.85,12.4" fill="none" stroke="#1b1b1b" stroke-width="1.85" stroke-linejoin="miter" stroke-miterlimit="3"/></g><g transform="translate(477.60 0) scale(1.0) translate(0 -16.60)"><ellipse cx="6.55" cy="8.30" rx="5.70" ry="7.38" fill="none" stroke="#1b1b1b" stroke-width="1.85"/></g></g>
<path d="M432.7,575.4 L418.5,575.4 L410.87,582.53" fill="none" stroke="#222" stroke-width="1.35" />
<polygon points="400.80,593.10 405.08,577.01 416.66,588.05" fill="#111"/>
</g>
</svg>
</body></html>
